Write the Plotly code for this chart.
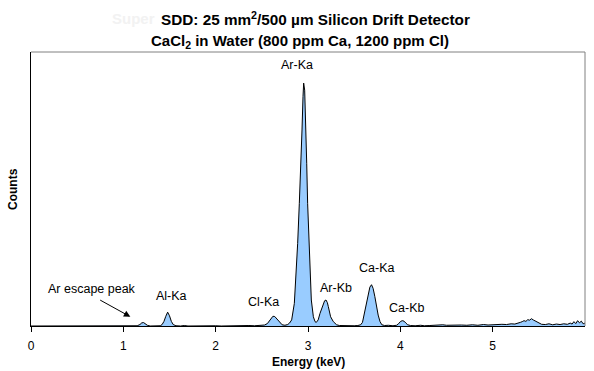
import plotly.graph_objects as go

# Spectrum (energy in keV, counts in arbitrary units, Ar-Ka peak = 1000)
energy = [0.0, 0.85, 0.90, 0.92, 1.00, 1.04, 1.06, 1.12,
          1.15, 1.18, 1.20, 1.22, 1.24, 1.26, 1.29, 1.33, 1.36,
          1.40, 1.42, 1.44, 1.46, 1.48, 1.50, 1.52, 1.54, 1.57,
          1.62, 1.66, 1.70, 1.78, 1.84, 1.90, 1.93, 2.00, 2.06, 2.12, 2.18, 2.25, 2.30, 2.36, 2.42, 2.46, 2.50,
          2.53, 2.56, 2.59, 2.62, 2.64, 2.66, 2.69, 2.72, 2.75, 2.78, 2.80,
          2.823, 2.852, 2.870, 2.888, 2.906, 2.921, 2.935, 2.946, 2.953, 2.964, 2.975, 2.986, 2.996, 3.007,
          3.022, 3.036, 3.058, 3.076, 3.09,
          3.11, 3.13, 3.15, 3.166, 3.18, 3.195, 3.21, 3.22, 3.245, 3.274, 3.31, 3.34,
          3.38, 3.42, 3.46, 3.50, 3.54,
          3.57, 3.59, 3.616, 3.634, 3.652, 3.67, 3.688, 3.705, 3.724, 3.742, 3.76, 3.78, 3.80, 3.83,
          3.87, 3.92,
          3.96, 3.98, 4.00, 4.02, 4.04, 4.06, 4.08, 4.11,
          4.16, 4.22, 4.26, 4.32, 4.38, 4.42, 4.46, 4.50, 4.55, 4.60, 4.66, 4.72, 4.78, 4.84, 4.90, 4.95,
          5.00, 5.05, 5.10, 5.15, 5.20,
          5.24, 5.27, 5.30, 5.32, 5.34, 5.36, 5.38, 5.40, 5.42, 5.44, 5.46, 5.48, 5.50, 5.53,
          5.57, 5.61, 5.65, 5.69, 5.73, 5.77, 5.81, 5.84, 5.86, 5.88, 5.90, 5.92, 5.94, 5.96, 5.98, 6.0]
counts = [0, 0, 2, 0, 0, 2, 0, 0,
          1, 6, 13, 14, 9, 3, 0, 1, 0,
          1, 6, 19, 40, 57, 42, 19, 6, 1,
          0, 2, 0, 1, 0, 2, 0, 1, 0, 1, 0, 2, 1, 2, 1, 3, 2,
          4, 10, 24, 40, 39, 30, 14, 5, 3, 6, 12,
          25, 93, 203, 340, 505, 642, 807, 944, 1000, 971, 848, 670, 505, 368,
          230, 107, 38, 18, 15,
          25, 52, 75, 93, 104, 107, 96, 80, 38, 18, 5, 2,
          1, 0, 2, 1, 2,
          5, 15, 66, 100, 134, 160, 170, 155, 121, 80, 45, 18, 5, 2,
          3, 1,
          3, 9, 18, 22, 20, 12, 5, 2,
          1, 3, 1, 2, 4, 3, 5, 3, 4, 2, 4, 3, 5, 3, 6, 4,
          6, 5, 7, 6, 9,
          8, 13, 15, 18, 22, 19, 26, 24, 30, 25, 21, 14, 11, 7,
          6, 9, 5, 8, 6, 9, 7, 12, 8, 18, 10, 22, 13, 20, 9, 12]

# Peak labels
label_text = ["Ar-Ka", "Ar-Kb", "Cl-Ka", "Ca-Ka", "Ca-Kb", "Al-Ka", "Ar escape peak"]
label_x = [2.88, 3.30, 2.517, 3.743, 4.07, 1.519, 0.661]
label_y = [1074, 156, 97, 239, 73, 123, 152]

x_ticks = [0, 1, 2, 3, 4, 5]
x_tick_text = ["0", "1", "2", "3", "4", "5"]

FONT = "Liberation Sans, Arial, sans-serif"

fig = go.Figure()
fig.add_trace(go.Scatter(
    x=energy, y=counts, mode="lines", fill="tozeroy",
    fillcolor="#99CCFF", line=dict(color="black", width=1),
    hoverinfo="skip", showlegend=False,
))

annotations = []
for t, xv, yv in zip(label_text, label_x, label_y):
    annotations.append(dict(x=xv, y=yv, xref="x", yref="y", text=t, showarrow=False,
                            font=dict(family=FONT, size=12.5, color="black"),
                            xanchor="center", yanchor="middle"))
# arrow for escape peak
annotations.append(dict(x=1.076, y=38, ax=0.733, ay=110, xref="x", yref="y", axref="x", ayref="y",
                        text="", showarrow=True, arrowhead=2, arrowsize=1.3, arrowwidth=1,
                        arrowcolor="black"))
# titles
annotations.append(dict(x=(157 - 31) / 554, y=1.124, xref="paper", yref="paper", text="<b>Super</b>",
                        showarrow=False, xanchor="right", yanchor="middle",
                        font=dict(family=FONT, size=15, color="#F2F2F2")))
annotations.append(dict(x=(315 - 31) / 554, y=1.124, xref="paper", yref="paper",
                        text="<b>SDD: 25 mm<sup>2</sup>/500 µm Silicon Drift Detector</b>",
                        showarrow=False, xanchor="center", yanchor="middle",
                        font=dict(family=FONT, size=15.3, color="black")))
annotations.append(dict(x=(300.4 - 31) / 554, y=1.0365, xref="paper", yref="paper",
                        text="<b>CaCl<sub>2</sub> in Water (800 ppm Ca, 1200 ppm Cl)</b>",
                        showarrow=False, xanchor="center", yanchor="middle",
                        font=dict(family=FONT, size=15, color="black")))
# axis titles
annotations.append(dict(x=0.5, y=(326 - 362) / 274, xref="paper", yref="paper", text="<b>Energy (keV)</b>",
                        showarrow=False, xanchor="center", yanchor="middle",
                        font=dict(family=FONT, size=12, color="black")))
annotations.append(dict(x=(13 - 31) / 554, y=0.5, xref="paper", yref="paper", text="<b>Counts</b>",
                        showarrow=False, xanchor="center", yanchor="middle", textangle=-90,
                        font=dict(family=FONT, size=12, color="black")))

fig.update_layout(
    width=594, height=371,
    margin=dict(l=31, r=9, t=52, b=45),
    paper_bgcolor="white", plot_bgcolor="white",
    annotations=annotations,
    shapes=[
        dict(type="line", xref="paper", yref="paper", x0=0, x1=1, y0=1, y1=1,
             line=dict(color="#808080", width=1)),
        dict(type="line", xref="paper", yref="paper", x0=1, x1=1, y0=0, y1=1,
             line=dict(color="#808080", width=1)),
    ],
    xaxis=dict(range=[0, 6], tickvals=x_ticks, ticktext=x_tick_text, ticks="outside", ticklen=5,
               tickcolor="black", showline=True, linecolor="black", linewidth=1,
               showgrid=False, zeroline=False, ticklabelstandoff=4,
               tickfont=dict(family=FONT, size=12, color="black")),
    yaxis=dict(range=[0, 1128], showticklabels=False, ticks="", showline=True, linecolor="black",
               linewidth=1, showgrid=False, zeroline=False),
)

fig.write_html("out.html", config={"displayModeBar": False},
               post_script="document.body.style.margin='0';document.body.style.padding='0';"
                           "document.body.style.overflow='hidden';")
